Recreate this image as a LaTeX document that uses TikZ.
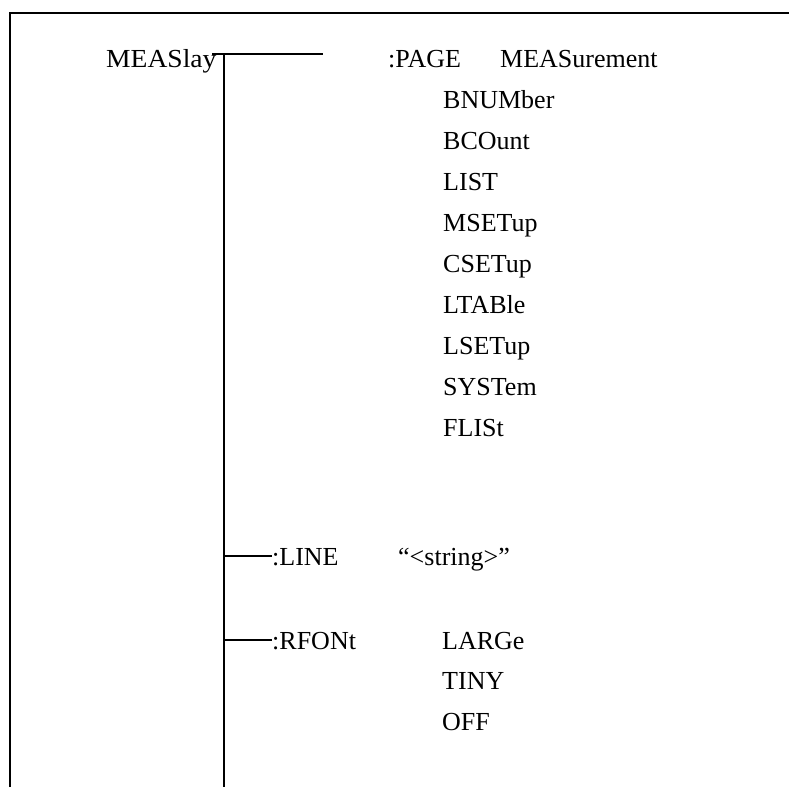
\documentclass[tikz,border=0pt]{standalone}
\usepackage{fontspec}
\setmainfont{Liberation Serif}
\begin{document}
\begin{tikzpicture}[x=1pt,y=-1pt,
  lbl/.style={inner sep=0pt,anchor=base west,font=\fontsize{26}{30}\selectfont},
  frameline/.style={line width=2pt},
  trunkline/.style={line width=2pt},
  branchline/.style={line width=1.5pt}]
\useasboundingbox (0,0) rectangle (789,787);
% frame
\draw[frameline] (10,787) -- (10,12.5) -- (789,12.5);
% root and top level
\node[lbl] (root) at (106,67) {\scalebox{1.06}[1]{MEASlay}};
\node[lbl] (page) at (388,67) {:PAGE};
\node[lbl] (meas) at (500,67) {MEASurement};
\node[lbl] (bnum) at (443,108) {BNUMber};
\node[lbl] (bcou) at (443,149) {BCOunt};
\node[lbl] (list) at (443,190) {LIST};
\node[lbl] (mset) at (443,231) {MSETup};
\node[lbl] (cset) at (443,272) {CSETup};
\node[lbl] (ltab) at (443,313) {LTABle};
\node[lbl] (lset) at (443,354) {LSETup};
\node[lbl] (syst) at (443,395) {SYSTem};
\node[lbl] (flis) at (443,436) {FLISt};
\node[lbl] (line) at (272,565) {:LINE};
\node[lbl] (str) at (398,565) {“<string>”};
\node[lbl] (rfon) at (272,649) {:RFONt};
\node[lbl] (larg) at (442,649) {LARGe};
\node[lbl] (tiny) at (442,689) {TINY};
\node[lbl] (off) at (442,730) {OFF};
% connectors
\coordinate (tstart) at (212,54);
\coordinate (tend) at (323,54);
\coordinate (trtop) at (224,54);
\coordinate (trbot) at (224,787);
\coordinate (brline) at (224,556);
\coordinate (brrfon) at (224,640);
\draw[branchline] (tstart) -- (tend);
\draw[trunkline] (trtop) -- (trbot);
\draw[branchline] (brline) -- (brline -| line.west);
\draw[branchline] (brrfon) -- (brrfon -| rfon.west);
\end{tikzpicture}
\end{document}
